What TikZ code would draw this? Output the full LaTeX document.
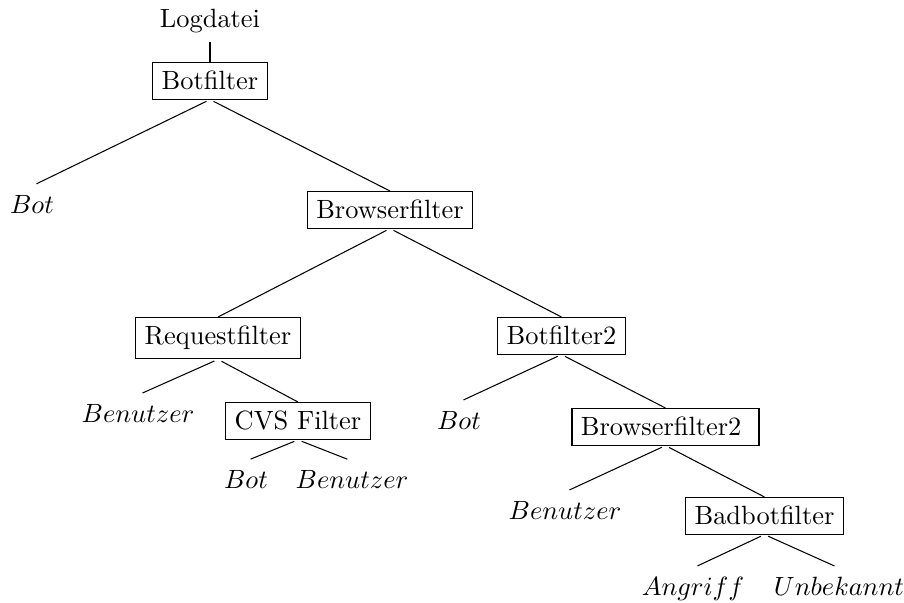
\documentclass[tikz,border=0pt]{standalone}
\begin{document}
\begin{tikzpicture}[x=0.3788pt,y=-0.3788pt,
    filter/.style={draw,anchor=north},
    leaf/.style={anchor=north},
    tobox/.style={shorten <=1.5pt},
    toleaf/.style={shorten <=1.5pt,shorten >=1.9pt}]
    \useasboundingbox (0,0) rectangle (904,602);
    \node[anchor=base] (log) at (210,27) {Logdatei};
    \node[filter] (botf) at (210,62) {Botfilter};
    \node[leaf] (bot1) at (32,186) {$Bot$};
    \node[filter] (brf) at (390,191) {Browserfilter};
    \node[filter] (reqf) at (218,317) {Requestfilter};
    \node[filter] (botf2) at (561.5,317) {Botfilter2};
    \node[leaf] (ben1) at (138,395) {$Benutzer$};
    \node[filter] (cvsf) at (298,402) {CVS Filter};
    \node[leaf] (bot2) at (246,461) {$Bot$};
    \node[leaf] (ben2) at (352,461) {$Benutzer$};
    \node[leaf] (bot3) at (459,402) {$Bot$};
    \node[filter] (brf2) at (665.5,408) {Browserfilter2\kern3.33pt};
    \node[leaf] (ben3) at (565,492) {$Benutzer$};
    \node[filter] (badf) at (764.5,497) {Badbotfilter};
    \node[leaf] (angr) at (693,568) {$Angriff$};
    \node[leaf] (unbk) at (839,568) {$Unbekannt$};
    \draw (log.south) -- (botf.north);
    \draw[toleaf] (botf.south) -- (bot1.north);
    \draw[tobox] (botf.south) -- (brf.north);
    \draw[tobox] (brf.south) -- (reqf.north);
    \draw[tobox] (brf.south) -- (botf2.north);
    \draw[toleaf] (reqf.south) -- (ben1.north);
    \draw[tobox] (reqf.south) -- (cvsf.north);
    \draw[toleaf] (cvsf.south) -- (bot2.north);
    \draw[toleaf] (cvsf.south) -- (ben2.north);
    \draw[toleaf] (botf2.south) -- (bot3.north);
    \draw[tobox] (botf2.south) -- (brf2.north);
    \draw[toleaf] (brf2.south) -- (ben3.north);
    \draw[tobox] (brf2.south) -- (badf.north);
    \draw[toleaf] (badf.south) -- (angr.north);
    \draw[toleaf] (badf.south) -- (unbk.north);
\end{tikzpicture}
\end{document}
